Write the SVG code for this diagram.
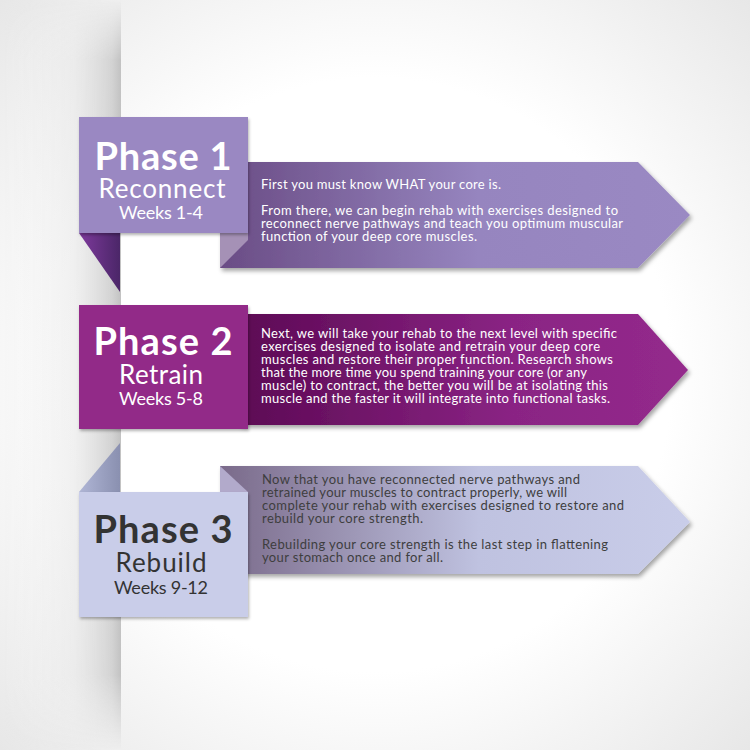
<svg xmlns="http://www.w3.org/2000/svg" width="750" height="750" viewBox="0 0 750 750">
<defs>
<radialGradient id="bg" cx="0.5" cy="0.5" r="0.72">
<stop offset="0.55" stop-color="#ffffff"/>
<stop offset="1" stop-color="#e6e6e6"/>
</radialGradient>
<linearGradient id="curl" x1="0" y1="0" x2="1" y2="0">
<stop offset="0" stop-color="#f4f4f4" stop-opacity="0"/>
<stop offset="0.6" stop-color="#e8e8e8" stop-opacity="0.6"/>
<stop offset="0.93" stop-color="#d2d2d2" stop-opacity="1"/>
<stop offset="1" stop-color="#c2c2c2" stop-opacity="1"/>
</linearGradient>
<linearGradient id="fadeV" x1="0" y1="0" x2="0" y2="1">
<stop offset="0" stop-color="#fff" stop-opacity="0"/>
<stop offset="0.08" stop-color="#fff" stop-opacity="1"/>
<stop offset="0.9" stop-color="#fff" stop-opacity="1"/>
<stop offset="1" stop-color="#fff" stop-opacity="0"/>
</linearGradient>
<mask id="vmask"><rect x="0" y="0" width="130" height="750" fill="url(#fadeV)"/></mask>
<linearGradient id="a1" x1="220" y1="0" x2="690" y2="0" gradientUnits="userSpaceOnUse">
<stop offset="0" stop-color="#6a4c85"/>
<stop offset="0.55" stop-color="#9685bf"/>
<stop offset="1" stop-color="#9a89c3"/>
</linearGradient>
<linearGradient id="a2" x1="248" y1="0" x2="690" y2="0" gradientUnits="userSpaceOnUse">
<stop offset="0" stop-color="#5e0a56"/>
<stop offset="0.6" stop-color="#8a2484"/>
<stop offset="1" stop-color="#942a8c"/>
</linearGradient>
<linearGradient id="a3" x1="220" y1="0" x2="690" y2="0" gradientUnits="userSpaceOnUse">
<stop offset="0" stop-color="#7a6a8a"/>
<stop offset="0.55" stop-color="#bfc2e0"/>
<stop offset="1" stop-color="#c9cde9"/>
</linearGradient>
<linearGradient id="f1" x1="0" y1="0" x2="1" y2="0">
<stop offset="0" stop-color="#7e3a9c"/>
<stop offset="1" stop-color="#4b2668"/>
</linearGradient>
<linearGradient id="f3" x1="0" y1="0" x2="1" y2="0">
<stop offset="0" stop-color="#b0b6d6"/>
<stop offset="1" stop-color="#8a90b0"/>
</linearGradient>
<filter id="sh" x="-10%" y="-10%" width="125%" height="130%">
<feDropShadow dx="2" dy="3" stdDeviation="2" flood-color="#000" flood-opacity="0.35"/>
</filter>
<filter id="shs" x="-10%" y="-10%" width="125%" height="130%">
<feDropShadow dx="1" dy="2" stdDeviation="1.5" flood-color="#000" flood-opacity="0.3"/>
</filter>
</defs>
<style>
.title{font-family:Lato,"Noto Sans",sans-serif;font-weight:700;font-size:38px;text-anchor:middle}
.sub{font-family:Lato,"Noto Sans",sans-serif;font-size:26px;text-anchor:middle}
.wk{font-family:Lato,"Noto Sans",sans-serif;font-size:18px;text-anchor:middle}
.body{font-family:Lato,"Noto Sans",sans-serif;font-size:13px}
.w{fill:#ffffff}
.d{fill:#333333}
.bd{fill:#3e3e3e}
</style>
<rect x="0" y="0" width="750" height="750" fill="url(#bg)"/>
<g mask="url(#vmask)">
<rect x="0" y="0" width="121" height="750" fill="url(#curl)"/>
</g>

<g id="connectors"></g>

<g id="arrow1">
<polygon points="220,162 638,162 690,215 638,268 220,268" fill="url(#a1)" filter="url(#sh)"/>
<polygon points="220,233 248,233 248,240 220,268" fill="#a591b6"/>
<text class="body w" x="261" y="189" textLength="240" lengthAdjust="spacing">First you must know WHAT your core is.</text>
<text class="body w" x="261" y="215" textLength="357" lengthAdjust="spacing">From there, we can begin rehab with exercises designed to</text>
<text class="body w" x="261" y="228" textLength="362" lengthAdjust="spacing">reconnect nerve pathways and teach you optimum muscular</text>
<text class="body w" x="261" y="241" textLength="216" lengthAdjust="spacing">function of your deep core muscles.</text>
</g>

<g id="phase1">
<polygon points="79,233 120,233 120,292" fill="url(#f1)"/>
<rect x="79" y="117" width="169" height="116" fill="#9a88c2" filter="url(#shs)"/>
<text class="title w" x="163" y="170" textLength="137" lengthAdjust="spacing">Phase 1</text>
<text class="sub w" x="162" y="198" textLength="127" lengthAdjust="spacing">Reconnect</text>
<text class="wk w" x="161" y="219" textLength="84" lengthAdjust="spacing">Weeks 1-4</text>
</g>

<g id="arrow2">
<polygon points="240,314 638,314 688,370 638,425 240,425" fill="url(#a2)" filter="url(#sh)"/>
<text class="body w" x="261" y="338" textLength="356" lengthAdjust="spacing">Next, we will take your rehab to the next level with specific</text>
<text class="body w" x="261" y="351" textLength="339" lengthAdjust="spacing">exercises designed to isolate and retrain your deep core</text>
<text class="body w" x="261" y="364" textLength="352" lengthAdjust="spacing">muscles and restore their proper function. Research shows</text>
<text class="body w" x="261" y="377" textLength="326" lengthAdjust="spacing">that the more time you spend training your core (or any</text>
<text class="body w" x="261" y="390" textLength="347" lengthAdjust="spacing">muscle) to contract, the better you will be at isolating this</text>
<text class="body w" x="261" y="403" textLength="349" lengthAdjust="spacing">muscle and the faster it will integrate into functional tasks.</text>
</g>

<g id="phase2">
<rect x="79" y="305" width="169" height="124" fill="#922a88" filter="url(#shs)"/>
<text class="title w" x="163" y="355" textLength="139" lengthAdjust="spacing">Phase 2</text>
<text class="sub w" x="161" y="384" textLength="84" lengthAdjust="spacing">Retrain</text>
<text class="wk w" x="161" y="405" textLength="84" lengthAdjust="spacing">Weeks 5-8</text>
</g>

<g id="arrow3">
<polygon points="220,466 638,466 690,522 638,574 220,574" fill="url(#a3)" filter="url(#sh)"/>
<polygon points="220,466 248,492 220,492" fill="#b2aacb"/>
<text class="body bd" x="262" y="484" textLength="318" lengthAdjust="spacing">Now that you have reconnected nerve pathways and</text>
<text class="body bd" x="262" y="497" textLength="305" lengthAdjust="spacing">retrained your muscles to contract properly, we will</text>
<text class="body bd" x="262" y="510" textLength="362" lengthAdjust="spacing">complete your rehab with exercises designed to restore and</text>
<text class="body bd" x="262" y="523" textLength="161" lengthAdjust="spacing">rebuild your core strength.</text>
<text class="body bd" x="262" y="549" textLength="346" lengthAdjust="spacing">Rebuilding your core strength is the last step in flattening</text>
<text class="body bd" x="262" y="562" textLength="181" lengthAdjust="spacing">your stomach once and for all.</text>
</g>

<g id="phase3">
<polygon points="79,492 120,443 120,492" fill="url(#f3)"/>
<rect x="79" y="492" width="169" height="125" fill="#c9cde9" filter="url(#shs)"/>
<text class="title d" x="163" y="543" textLength="139" lengthAdjust="spacing">Phase 3</text>
<text class="sub d" x="161" y="572" textLength="91" lengthAdjust="spacing">Rebuild</text>
<text class="wk d" x="161" y="594" textLength="94" lengthAdjust="spacing">Weeks 9-12</text>
</g>
</svg>
